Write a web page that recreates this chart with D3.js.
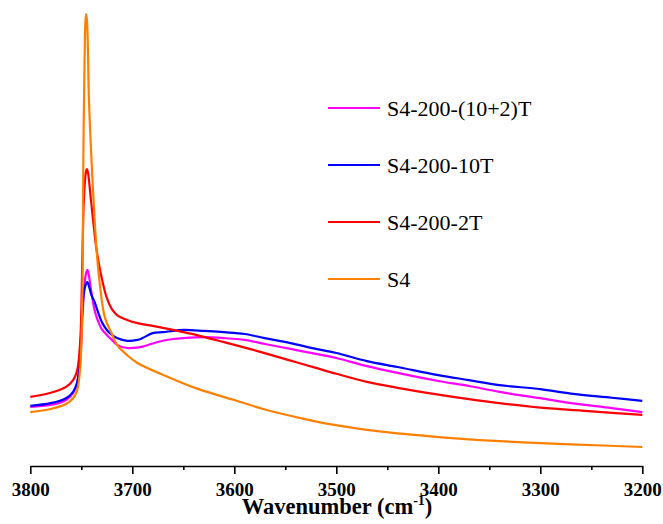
<!DOCTYPE html>
<html>
<head>
<meta charset="utf-8">
<script src="https://cdn.jsdelivr.net/npm/d3@7/dist/d3.min.js"></script>
<style>
  html, body { margin: 0; padding: 0; background: #fff; }
  svg { display: block; }
  svg text { font-family: "Liberation Serif", "Times New Roman", Times, "DejaVu Serif", serif; }
</style>
</head>
<body>
<svg id="chart" width="663" height="524"></svg>
<script>
// ---- Data (wavenumber in cm^-1, absorbance in arbitrary units) ----
const seriesNames = ["S4-200-(10+2)T", "S4-200-10T", "S4-200-2T", "S4"];
const seriesColors = ["#FF00FF", "#0000FF", "#FF0000", "#FF8000"];

const wnMagenta = [3800,3780,3765,3758,3754,3751,3749,3747,3745,3744,3743,3740,3737,3734,3730,3725,3720,3715,3705,3695,3690,3680,3670,3660,3650,3630,3610,3590,3570,3545,3520,3500,3470,3440,3400,3370,3340,3300,3270,3230,3200];
const absMagenta = [0.131,0.135,0.146,0.162,0.184,0.235,0.323,0.400,0.429,0.434,0.427,0.383,0.345,0.323,0.303,0.290,0.279,0.268,0.261,0.262,0.264,0.271,0.277,0.281,0.283,0.285,0.283,0.279,0.270,0.259,0.248,0.239,0.221,0.206,0.188,0.177,0.164,0.150,0.139,0.128,0.119];

const wnBlue = [3800,3780,3765,3758,3754,3751,3749,3747,3745,3744,3742,3740,3737,3734,3730,3725,3720,3715,3705,3695,3690,3680,3670,3660,3650,3630,3610,3590,3570,3545,3520,3500,3470,3440,3400,3370,3340,3300,3270,3230,3200];
const absBlue = [0.133,0.139,0.150,0.164,0.186,0.257,0.345,0.389,0.405,0.407,0.394,0.378,0.363,0.343,0.319,0.301,0.290,0.283,0.277,0.279,0.283,0.294,0.296,0.299,0.301,0.299,0.296,0.292,0.283,0.272,0.259,0.250,0.232,0.219,0.201,0.190,0.179,0.170,0.160,0.151,0.144];

const wnRed = [3800,3780,3765,3758,3754,3751,3749,3747.5,3745.5,3744.5,3743.5,3740.5,3735,3730,3725,3720,3715,3705,3695,3680,3660,3634,3610,3585,3560,3540,3520,3500,3470,3440,3400,3370,3340,3300,3250,3200];
const absRed = [0.153,0.162,0.175,0.190,0.212,0.279,0.456,0.588,0.650,0.657,0.650,0.588,0.478,0.416,0.372,0.347,0.334,0.323,0.316,0.310,0.301,0.288,0.274,0.259,0.243,0.230,0.217,0.204,0.186,0.173,0.158,0.148,0.139,0.129,0.121,0.113];

const wnOrange = [3800,3780,3765,3758,3754,3751,3749,3748,3746.5,3745.5,3744.5,3742.5,3740,3735,3732,3727,3720,3715,3705,3695,3665,3635,3600,3570,3535,3505,3470,3440,3405,3370,3340,3305,3270,3200];
const absOrange = [0.119,0.126,0.137,0.150,0.168,0.219,0.367,0.677,0.942,1.000,0.987,0.810,0.677,0.478,0.405,0.330,0.292,0.268,0.245,0.228,0.197,0.170,0.146,0.125,0.106,0.092,0.080,0.072,0.065,0.059,0.055,0.051,0.048,0.042];

const xMajorTicks = [3800,3700,3600,3500,3400,3300,3200];
const xMinorTicks = [3750,3650,3550,3450,3350,3250];
const xTitle = "Wavenumber (cm";
const xTitleSup = "-1";

// ---- Build ----
const series = [
  {name: seriesNames[0], color: seriesColors[0], wn: wnMagenta, a: absMagenta},
  {name: seriesNames[1], color: seriesColors[1], wn: wnBlue, a: absBlue},
  {name: seriesNames[2], color: seriesColors[2], wn: wnRed, a: absRed},
  {name: seriesNames[3], color: seriesColors[3], wn: wnOrange, a: absOrange}
];

const FONT = '"Liberation Serif", "Times New Roman", Times, "DejaVu Serif", serif';
const svg = d3.select("#chart");
const x = d3.scaleLinear().domain([3800, 3200]).range([30.3, 642.3]);
const y = d3.scaleLinear().domain([0, 1]).range([466, 14]);

const line = d3.line()
  .x(d => x(d[0]))
  .y(d => y(d[1]))
  .curve(d3.curveCatmullRom.alpha(0.5));

const gLines = svg.append("g");
series.forEach(s => {
  const pts = s.wn.map((w, i) => [w, s.a[i]]);
  gLines.append("path")
    .attr("d", line(pts))
    .attr("fill", "none")
    .attr("stroke", s.color)
    .attr("stroke-width", 2.2)
    .attr("stroke-linejoin", "round");
});

// ---- X axis ----
const axisY = 466;
const gx = svg.append("g").attr("transform", `translate(0,${axisY})`);
gx.call(d3.axisBottom(x).tickValues(xMajorTicks).tickSize(8).tickSizeOuter(0).tickFormat(d3.format("d")));
gx.attr("font-family", null).attr("font-size", null);
gx.select(".domain").attr("stroke", "#000").attr("stroke-width", 1.6);
gx.selectAll(".tick line").attr("stroke", "#000").attr("stroke-width", 1.6);
gx.selectAll(".tick text")
  .style("font-family", FONT)
  .style("font-weight", "bold")
  .style("font-size", "19px")
  .attr("fill", "#000")
  .attr("dy", null)
  .attr("y", 30);
const gMinor = svg.append("g").attr("transform", `translate(0,${axisY})`);
gMinor.call(d3.axisBottom(x).tickValues(xMinorTicks).tickSize(4).tickSizeOuter(0).tickFormat(""));
gMinor.select(".domain").remove();
gMinor.selectAll(".tick line").attr("stroke", "#000").attr("stroke-width", 1.6);

// ---- X title ----
const title = svg.append("text")
  .attr("x", 337)
  .attr("y", 514)
  .attr("text-anchor", "middle")
  .style("font-family", FONT)
  .style("font-weight", "bold")
  .style("font-size", "22.5px")
  .attr("fill", "#000");
title.append("tspan").text(xTitle);
title.append("tspan").style("font-size", "14px").attr("dy", -9).text(xTitleSup);
title.append("tspan").attr("dy", 9).text(")");

// ---- Legend ----
const legend = svg.append("g");
series.forEach((s, i) => {
  const ly = 108 + i * 57;
  legend.append("line")
    .attr("x1", 328).attr("x2", 380)
    .attr("y1", ly).attr("y2", ly)
    .attr("stroke", s.color).attr("stroke-width", 2);
  legend.append("text")
    .attr("x", 387).attr("y", ly + 8)
    .style("font-family", FONT)
    .style("font-size", "22px")
    .attr("fill", "#000")
    .text(s.name);
});
</script>
</body>
</html>
